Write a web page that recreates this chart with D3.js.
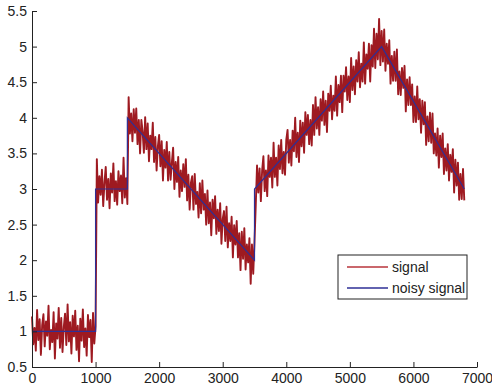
<!DOCTYPE html>
<html>
<head>
<meta charset="utf-8">
<script src="https://cdn.jsdelivr.net/npm/d3@7"></script>
<style>
  html, body { margin: 0; padding: 0; background: #fff; }
  svg { display: block; font-family: Arial, "Liberation Sans", Helvetica, sans-serif; }
  .axis text { font-size: 14px; fill: #222; }
  .axis path, .axis line { stroke: #222; }
</style>
</head>
<body>
<div id="chart"></div>
<script>
// clean piecewise signal (breakpoints)
const cleanX = [0, 1000, 1000, 1500, 1500, 3500, 3500, 5500, 6800];
const cleanY = [1, 1, 3, 3, 4, 2, 3, 5, 3];

// noisy samples, one every 20 units from 0 to 6800
const sampleStep = 20;
const noisyY = [
  // 0 - 1000
  1.21,0.82,1.05,0.73,1.30,0.88,1.17,0.67,1.09,1.24,0.79,1.14,0.94,1.36,0.75,1.02,0.85,1.27,0.62,1.11,
  0.90,1.33,0.77,1.19,0.71,1.06,1.25,0.81,1.38,0.86,1.13,0.69,1.22,0.93,1.29,0.74,1.08,0.58,1.18,0.87,
  1.31,0.78,1.04,0.66,1.23,0.92,1.16,0.57,1.26,0.83,1.07,
  // 1020 - 1500
  3.42,2.81,3.18,2.92,3.27,2.76,3.09,3.31,2.85,3.14,2.73,3.22,2.95,3.36,2.83,3.11,2.78,3.25,2.97,3.19,
  2.80,3.44,2.88,3.15,2.79,
  // 1520 - 3500
  4.29,3.78,4.06,3.67,4.12,3.79,4.13,3.63,3.97,3.50,3.97,3.81,3.51,4.01,3.56,3.92,3.39,3.75,3.56,3.93,
  3.38,3.73,3.26,3.60,3.76,3.32,3.67,3.12,3.55,3.30,3.66,3.12,3.52,3.13,3.37,3.58,3.00,3.38,3.10,3.45,
  2.89,3.26,2.97,3.35,3.03,3.42,2.84,3.20,2.71,3.09,3.18,2.71,3.21,2.79,2.96,2.60,3.08,2.66,3.12,2.71,
  2.93,2.50,2.98,2.52,2.81,2.35,2.85,2.59,2.90,2.37,2.71,2.41,2.80,2.23,2.58,2.69,2.27,2.75,2.18,2.52,
  2.27,2.61,2.04,2.49,2.22,2.55,2.04,2.38,1.86,2.40,2.02,2.45,1.87,2.22,1.97,2.31,1.67,2.22,1.81,2.26,
  // 3520 - 5500
  2.78,3.33,2.95,3.29,2.83,3.26,3.46,2.97,3.26,2.90,3.47,3.17,3.44,3.02,3.65,3.17,3.44,3.05,3.61,3.28,
  3.69,3.22,3.52,3.20,3.69,3.83,3.37,3.69,3.33,3.82,3.53,4.00,3.45,3.79,3.38,3.96,3.60,3.93,3.51,4.08,
  3.76,4.04,3.63,3.97,3.61,4.18,3.76,4.29,3.85,4.15,3.76,4.26,3.96,4.37,3.90,4.24,3.80,4.34,4.10,4.45,
  3.98,4.31,4.10,4.58,4.03,4.46,4.22,4.59,4.08,4.59,4.37,4.71,4.25,4.58,4.22,4.84,4.39,4.72,4.33,4.81,
  4.51,4.92,4.43,4.76,4.51,5.06,4.48,4.89,4.69,5.04,4.51,5.02,4.72,5.25,4.70,5.18,4.82,5.39,4.74,5.22,
  // 5520 - 6800
  4.79,5.24,4.66,5.04,4.76,5.09,4.48,4.87,4.52,4.93,4.52,4.96,4.33,4.65,4.32,4.70,4.42,4.73,4.09,4.54,
  4.18,4.57,4.18,4.47,3.94,4.30,3.94,4.44,3.98,4.26,3.79,4.24,3.91,4.22,3.62,4.02,3.67,4.07,3.65,4.06,
  3.50,3.78,3.47,3.85,3.30,3.75,3.45,3.78,3.21,3.57,3.26,3.63,3.12,3.48,3.24,3.56,2.95,3.41,3.05,3.37,
  2.85,3.21,2.86,3.28,2.84
];

const xTicks = [0, 1000, 2000, 3000, 4000, 5000, 6000, 7000];
const yTicks = [0.5, 1, 1.5, 2, 2.5, 3, 3.5, 4, 4.5, 5, 5.5];
const legendLabels = ['signal', 'noisy signal'];

const W = 492, H = 390;
const colRed = '#9e1a21', colBlue = '#2e2f96';

const svg = d3.select('#chart').append('svg')
  .attr('width', W).attr('height', H);

svg.append('rect').attr('width', W).attr('height', H).attr('fill', '#fff');

const x = d3.scaleLinear().domain([0, 7000]).range([32, 477]);
const y = d3.scaleLinear().domain([0.5, 5.5]).range([367, 11]);

const line = d3.line().x(d => x(d[0])).y(d => y(d[1]));

const noisy = noisyY.map((v, i) => [i * sampleStep, v]);
const clean = cleanX.map((v, i) => [v, cleanY[i]]);

svg.append('path').datum(noisy)
  .attr('d', line).attr('fill', 'none')
  .attr('stroke', colRed).attr('stroke-width', 1.9)
  .attr('stroke-linejoin', 'round');

svg.append('path').datum(clean)
  .attr('d', line).attr('fill', 'none')
  .attr('stroke', colBlue).attr('stroke-width', 1.2);

// axes, ticks pointing inward
svg.append('g').attr('class', 'axis')
  .attr('transform', `translate(0,${y(0.5)})`)
  .call(d3.axisBottom(x).tickValues(xTicks).tickFormat(d3.format('d'))
    .tickSizeInner(-5).tickSizeOuter(0).tickPadding(6));

svg.append('g').attr('class', 'axis')
  .attr('transform', `translate(${x(0)},0)`)
  .call(d3.axisLeft(y).tickValues(yTicks).tickFormat(d => String(d))
    .tickSizeInner(-5).tickSizeOuter(0).tickPadding(5));

svg.selectAll('.axis text').attr('fill', '#222');

// legend
const lg = svg.append('g').attr('transform', 'translate(338,255)');
lg.append('rect').attr('width', 129).attr('height', 44)
  .attr('fill', '#fff').attr('stroke', '#222').attr('stroke-width', 1);
const lgColors = ['#b8343b', colBlue];
legendLabels.forEach((lab, i) => {
  const yy = 12 + i * 21;
  lg.append('line').attr('x1', 9).attr('x2', 50).attr('y1', yy).attr('y2', yy)
    .attr('stroke', lgColors[i]).attr('stroke-width', 1.3);
  lg.append('text').attr('x', 54).attr('y', yy).attr('dy', '0.35em')
    .attr('font-size', 14).attr('fill', '#222').text(lab);
});
</script>
</body>
</html>
